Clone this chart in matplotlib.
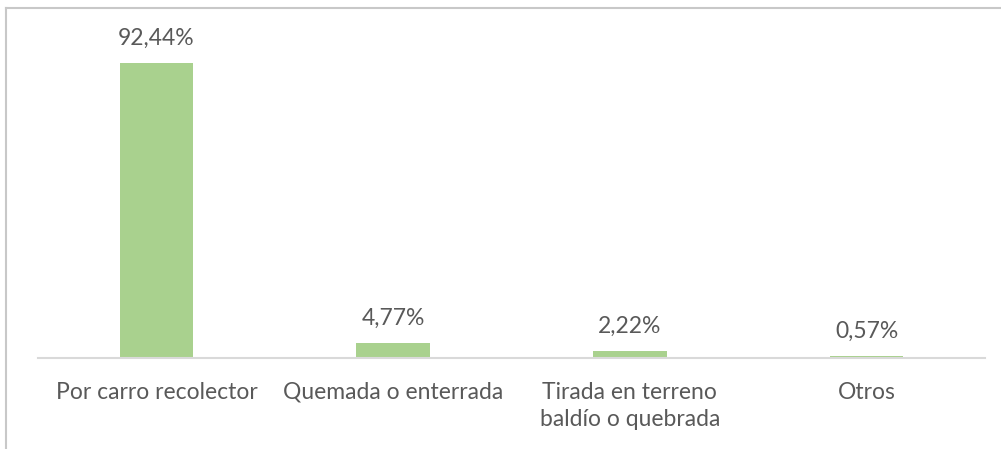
import matplotlib.pyplot as plt
from matplotlib.lines import Line2D

categories = ["Por carro recolector", "Quemada o enterrada",
              "Tirada en terreno\nbaldío o quebrada", "Otros"]
values = [92.44, 4.77, 2.22, 0.57]
labels = ["92,44%", "4,77%", "2,22%", "0,57%"]

W, H = 1001, 449
fig = plt.figure(figsize=(W / 100, H / 100), dpi=100)
ax = fig.add_axes([38 / W, (H - 358) / H, (985 - 38) / W, (358 - 39) / H])

text_color = "#595959"
ax.bar(range(len(values)), values, width=0.31, color="#A9D18E")
for i, (v, lab) in enumerate(zip(values, labels)):
    ax.annotate(lab, (i, v), xytext=(0, 10), textcoords="offset points",
                ha="center", va="bottom", fontsize=16.5, color=text_color,
                family="Lato")

ax.set_xlim(-0.5, 3.5)
ax.set_ylim(0, 100)
ax.set_xticks(range(len(categories)))
ax.set_xticklabels(categories, fontsize=16.5, color=text_color, family="Lato",
                   linespacing=1.35)
ax.tick_params(axis="x", length=0, pad=17)
ax.set_yticks([])
for s in ["top", "right", "left"]:
    ax.spines[s].set_visible(False)
ax.spines["bottom"].set_color("#D9D9D9")
ax.spines["bottom"].set_linewidth(1.5)

# chart area border (left and top edges visible)
fig.add_artist(Line2D([6 / W, 6 / W], [0, 1 - 8 / H], transform=fig.transFigure,
                      color="#C8C8C8", lw=1.5))
fig.add_artist(Line2D([6 / W, 1], [1 - 8 / H, 1 - 8 / H], transform=fig.transFigure,
                      color="#C8C8C8", lw=1.5))

fig.savefig("out.png", dpi=100)
